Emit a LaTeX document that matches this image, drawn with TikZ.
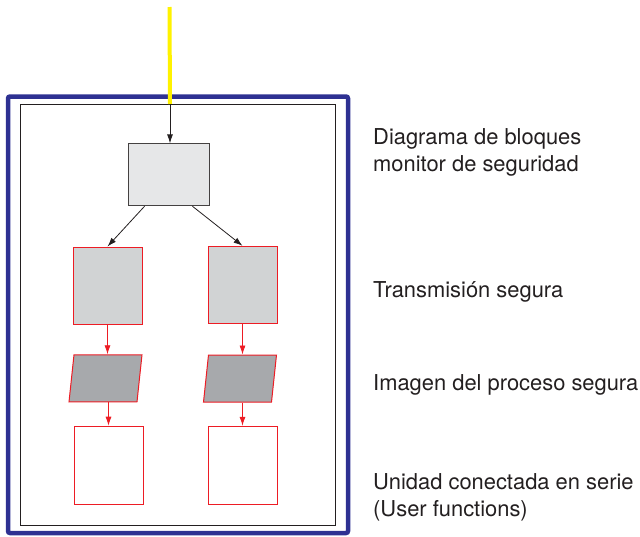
\documentclass[tikz,border=0pt]{standalone}
\usepackage{fontspec}
\setmainfont{TeX Gyre Heros}
\usetikzlibrary{arrows.meta}
\definecolor{frameblue}{HTML}{2E3192}
\definecolor{linkred}{HTML}{ED1C24}
\definecolor{feedyellow}{HTML}{FFF200}
\definecolor{monfill}{HTML}{E6E7E8}
\definecolor{transfill}{HTML}{D1D3D4}
\definecolor{imgfill}{HTML}{A7A9AC}
\definecolor{inkgray}{HTML}{231F20}

\tikzset{
  monbox/.style={draw=inkgray!85, fill=monfill, line width=0.9pt, inner sep=0pt,
    minimum width=81pt, minimum height=62pt},
  transbox/.style={draw=linkred, fill=transfill, line width=1pt, inner sep=0pt,
    minimum width=69pt, minimum height=77pt},
  imgbox/.style={draw=linkred, fill=imgfill, line width=1pt, inner sep=0pt,
    minimum width=68pt, minimum height=47pt, xslant=0.106, transform shape},
  userbox/.style={draw=linkred, fill=white, line width=1pt, inner sep=0pt,
    minimum width=69pt, minimum height=78pt},
  sidetext/.style={anchor=base west, align=left, inner sep=0pt, text=inkgray,
    font=\fontsize{21.9}{27}\selectfont},
}

\begin{document}
\begin{tikzpicture}[x=1pt,y=-1pt,>={Latex[length=9pt,width=6pt]}]

\useasboundingbox (0,0) rectangle (640,536);

% frame
\draw [frameblue, line width=4.5pt, rounded corners=2pt] (8,96.5) rectangle (348,533);
\draw [inkgray, line width=0.8pt] (20,104) rectangle (335,525);

% blocks
\node[monbox] (mon) at (168.5,174.8) {};

\node[transbox] (transl) at (107.5,285.5) {};
\node[transbox] (transr) at (242.5,284.8) {};

\node[imgbox] (imgl) at (105.5,378.3) {};
\node[imgbox] (imgr) at (240.0,378.5) {};

\node[userbox] (userl) at (108.5,465.2) {};
\node[userbox] (userr) at (242.5,465.3) {};

% feed line
\coordinate (feedtop) at (169.5,7);
\coordinate (feed) at (170,104);
\draw [feedyellow, line width=4pt] (feedtop) -- (feed);

% connections
\draw [->, inkgray, line width=0.8pt] (feed) -- (feed|-mon.north);
\draw [->, inkgray, line width=0.8pt] ([xshift=17]mon.south west) -- (transl.north);
\draw [->, inkgray, line width=0.8pt] ([xshift=-17]mon.south east) -- (transr.north);

\draw [->, linkred, line width=0.8pt] (transl.south) -- (imgl.north-|transl.south);
\draw [->, linkred, line width=0.8pt] (transr.south) -- (imgr.north-|transr.south);
\draw [->, linkred, line width=0.8pt] (imgl.south-|userl.north) -- (userl.north);
\draw [->, linkred, line width=0.8pt] (imgr.south-|userr.north) -- (userr.north);

% labels
\node[sidetext] (lmon) at (373,171) {Diagrama de bloques\\monitor de seguridad};
\node[sidetext] (ltrans) at (373,297.5) {Transmisión segura};
\node[sidetext] (limg) at (373,390.5) {Imagen del proceso segura};
\node[sidetext] (luser) at (373,516.5) {Unidad conectada en serie\\(User functions)};

\end{tikzpicture}
\end{document}
